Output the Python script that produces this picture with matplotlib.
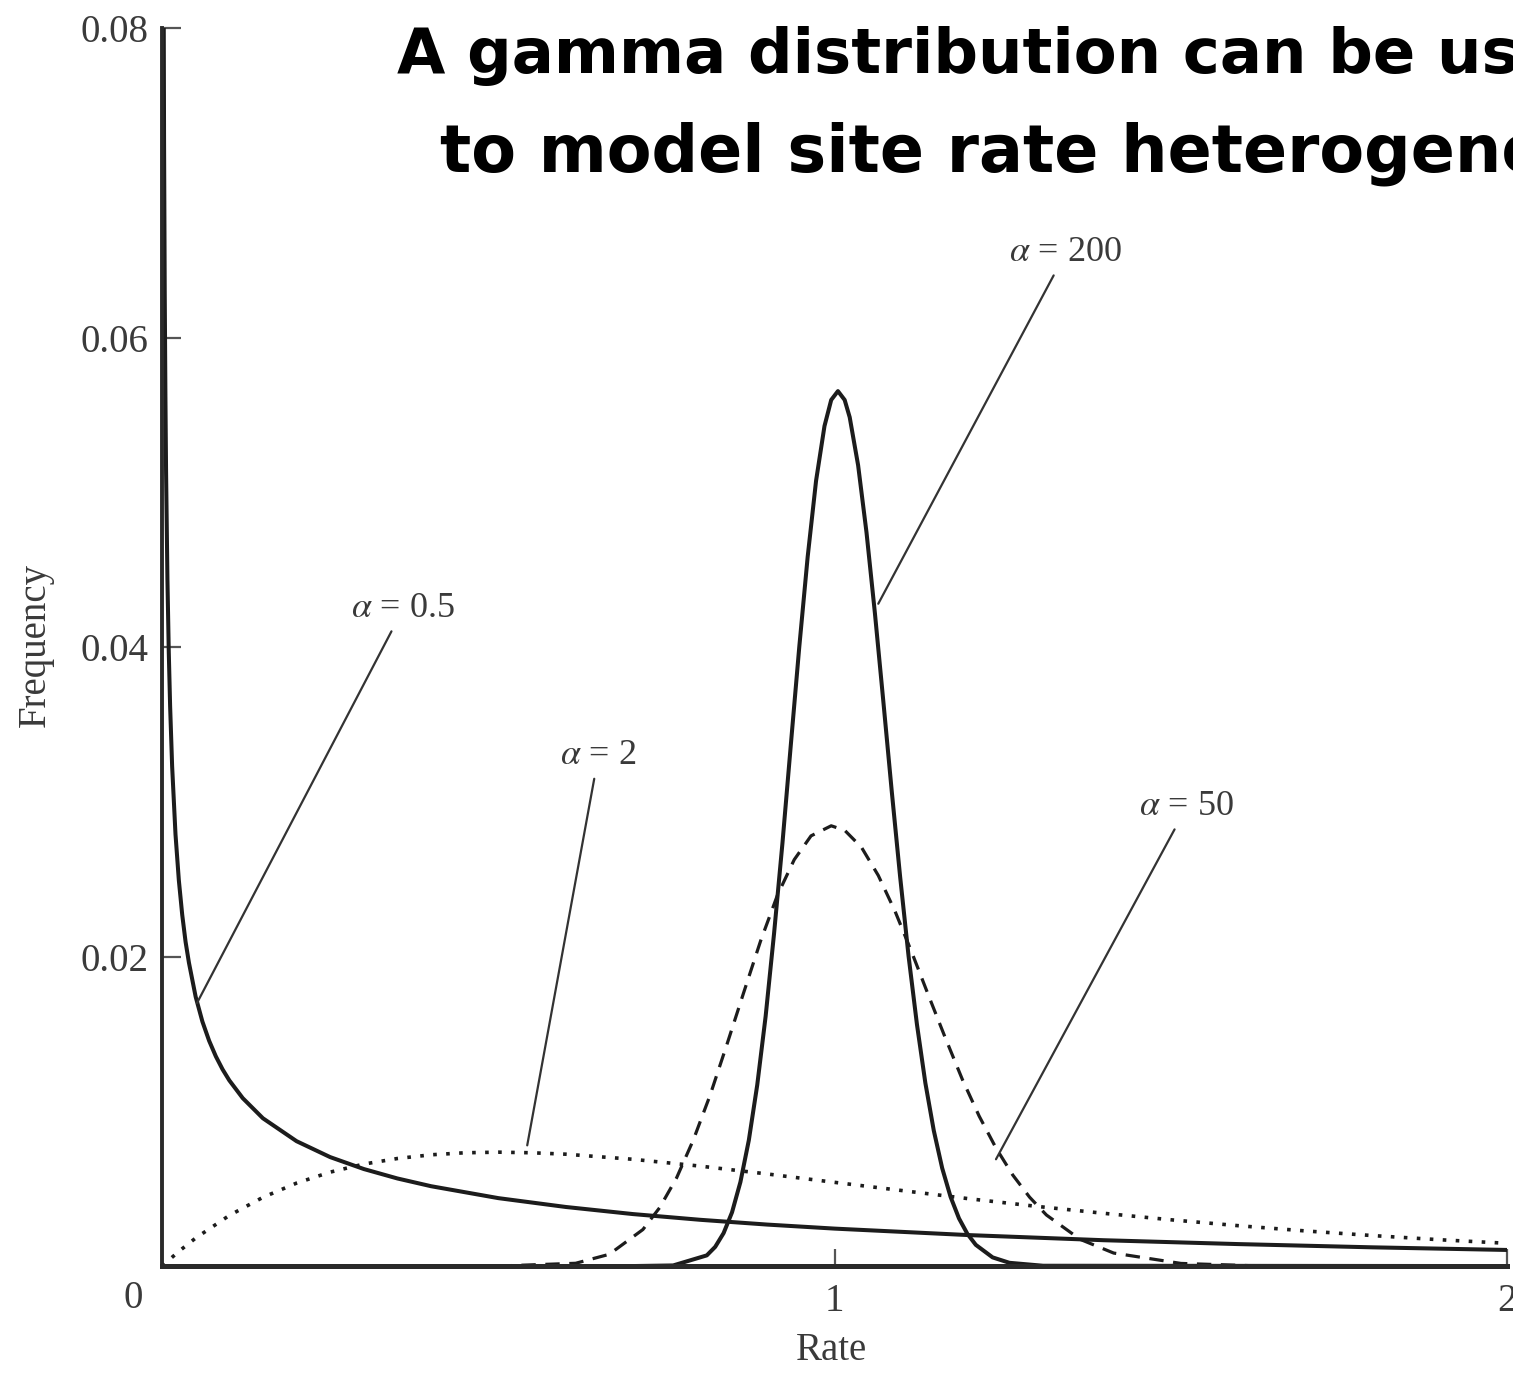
import matplotlib
matplotlib.use("Agg")
import matplotlib.pyplot as plt

# Values (rate vs frequency).
rate_a05 = [0.002, 0.003, 0.004, 0.005, 0.006, 0.008, 0.01, 0.012, 0.015,
            0.02, 0.025, 0.03, 0.035, 0.04, 0.05, 0.06, 0.07, 0.08, 0.09,
            0.1, 0.12, 0.15, 0.2, 0.25, 0.3, 0.35, 0.4, 0.5, 0.6, 0.7, 0.8,
            0.9, 1.0, 1.2, 1.4, 1.6, 1.8, 2.0]
freq_a05 = [0.0891, 0.0727, 0.0629, 0.0563, 0.0513, 0.0444, 0.0397, 0.0362,
            0.0323, 0.0279, 0.02492, 0.0227, 0.02095, 0.0196, 0.0174,
            0.0158, 0.01456, 0.01355, 0.01271, 0.0120, 0.01085, 0.00955,
            0.00807, 0.00704, 0.00627, 0.00566, 0.00516, 0.00439, 0.00382,
            0.00336, 0.00299, 0.00268, 0.00242, 0.00200, 0.00167, 0.00142,
            0.00121, 0.00104]

rate_a2 = [0, 0.025, 0.05, 0.1, 0.15, 0.2, 0.25, 0.3, 0.35, 0.4, 0.45, 0.5,
           0.55, 0.6, 0.7, 0.8, 0.9, 1.0, 1.1, 1.2, 1.3, 1.4, 1.5, 1.6, 1.7,
           1.8, 1.9, 2.0]
freq_a2 = [0, 0.00095, 0.00181, 0.00327, 0.00444, 0.00536, 0.00607, 0.00659,
           0.00695, 0.00719, 0.00732, 0.00736, 0.00732, 0.00723, 0.00690,
           0.00646, 0.00595, 0.00541, 0.00488, 0.00435, 0.00386, 0.00341,
           0.00299, 0.00261, 0.00227, 0.00197, 0.00170, 0.00147]

rate_a50 = [0, 0.5, 0.615, 0.665, 0.715, 0.74, 0.765, 0.79, 0.815, 0.84,
            0.865, 0.89, 0.915, 0.94, 0.965, 0.995, 1.015, 1.04, 1.065, 1.09,
            1.115, 1.14, 1.165, 1.19, 1.215, 1.24, 1.265, 1.29, 1.315, 1.365,
            1.415, 1.515, 1.615, 2.0]
freq_a50 = [0, 0, 0.00018, 0.00076, 0.00236, 0.00378, 0.00569, 0.00815,
            0.01105, 0.01433, 0.01769, 0.02101, 0.02396, 0.02626, 0.0278,
            0.02845, 0.02816, 0.02706, 0.02524, 0.02292, 0.02025, 0.01745,
            0.01471, 0.01206, 0.00969, 0.00763, 0.00588, 0.00445, 0.0033,
            0.00173, 0.00084, 0.00017, 0.00003, 0]

rate_a200 = [0, 0.70, 0.76, 0.81, 0.8225, 0.835, 0.8475, 0.86, 0.8725, 0.885,
             0.8975, 0.91, 0.9225, 0.935, 0.9475, 0.96, 0.9725, 0.985, 0.995,
             1.005, 1.015, 1.0225, 1.035, 1.0475, 1.06, 1.0725, 1.085,
             1.0975, 1.11, 1.1225, 1.135, 1.1475, 1.16, 1.1725, 1.185,
             1.1975, 1.21, 1.235, 1.26, 1.31, 2.0]
freq_a200 = [0, 0, 0.00004, 0.00069, 0.00124, 0.00213, 0.00347, 0.00543,
             0.00813, 0.0117, 0.01614, 0.02148, 0.02733, 0.03371, 0.04000,
             0.04583, 0.05075, 0.05428, 0.05597, 0.05654, 0.05597, 0.05485,
             0.05175, 0.0474, 0.04218, 0.03649, 0.03069, 0.02515, 0.02004,
             0.01561, 0.01183, 0.00876, 0.00633, 0.00447, 0.00308, 0.00208,
             0.00137, 0.00056, 0.00021, 0.00002, 0]

y_ticks = [0.02, 0.04, 0.06, 0.08]
y_labels = ["0.02", "0.04", "0.06", "0.08"]
x_ticks = [1, 2]
x_labels = ["1", "2"]

title_1 = "A gamma distribution can be used"
title_2 = "to model site rate heterogeneity"

plt.rcParams['mathtext.fontset'] = 'stix'
serif = ['Liberation Serif', 'DejaVu Serif']
ink = '#1c1c1c'
grey = '#3a3a3a'

fig = plt.figure(figsize=(15.13, 13.76), dpi=100)
ax = fig.add_axes([0.1071, 0.0799, 0.889, 0.8997])

ax.plot(rate_a05, freq_a05, color=ink, lw=2.9)
ax.plot(rate_a2, freq_a2, color=ink, lw=2.6, linestyle=(0, (1, 2.6)))
ax.plot(rate_a50, freq_a50, color=ink, lw=2.3, linestyle=(0, (4.5, 3)))
ax.plot(rate_a200, freq_a200, color=ink, lw=2.9)

ax.set_xlim(0, 2)
ax.set_ylim(0, 0.08)

for side in ['top', 'right']:
    ax.spines[side].set_visible(False)
ax.spines['left'].set_linewidth(2.8)
ax.spines['left'].set_color('#2a2a2a')
ax.spines['bottom'].set_linewidth(3.6)
ax.spines['bottom'].set_color('#2a2a2a')

ax.set_yticks(y_ticks)
ax.set_yticklabels(y_labels, family=serif, fontsize=28, color=grey)
ax.set_xticks(x_ticks)
ax.set_xticklabels(x_labels, family=serif, fontsize=28, color=grey)
ax.tick_params(axis='y', direction='in', length=14, width=1.6,
               color='#555555', pad=10)
ax.tick_params(axis='x', direction='in', length=12, width=1.6,
               color='#555555', pad=12)

# the zero label sits below-left of the origin
ax.annotate("0", xy=(0, 0), xytext=(-14, -10), textcoords='offset points',
            ha='right', va='top', family=serif, fontsize=28, color=grey)

ax.set_ylabel("Frequency", family=serif, fontsize=28, color=grey,
              va='center')
ax.yaxis.set_label_coords(-0.094, 0.502)
ax.set_xlabel("Rate", family=serif, fontsize=28, color=grey, va='center')
ax.xaxis.set_label_coords(0.498, -0.068)

# Curve labels with leader lines.
line_style = dict(arrowstyle='-', color='#333333', lw=1.6,
                  shrinkA=3, shrinkB=0)
ax.annotate(r"$\alpha$ = 0.5", xy=(0.052, 0.0170), xytext=(0.359, 0.0425),
            ha='center', va='center', family=serif, fontsize=26, color=grey,
            arrowprops=line_style)
ax.annotate(r"$\alpha$ = 2", xy=(0.543, 0.0078), xytext=(0.649, 0.0330),
            ha='center', va='center', family=serif, fontsize=26, color=grey,
            arrowprops=line_style)
ax.annotate(r"$\alpha$ = 50", xy=(1.240, 0.0069), xytext=(1.524, 0.0297),
            ha='center', va='center', family=serif, fontsize=26, color=grey,
            arrowprops=line_style)
ax.annotate(r"$\alpha$ = 200", xy=(1.065, 0.0428), xytext=(1.344, 0.0655),
            ha='center', va='center', family=serif, fontsize=26, color=grey,
            arrowprops=line_style)

# Slide heading, running off the right edge as in the original.
fig.text(397 / 1513, 1 - 73 / 1376, title_1, ha='left', va='baseline',
         fontsize=45, fontweight='bold', color='black')
fig.text(440 / 1513, 1 - 172 / 1376, title_2, ha='left', va='baseline',
         fontsize=47, fontweight='bold', color='black')

fig.savefig("out.png", dpi=100)
